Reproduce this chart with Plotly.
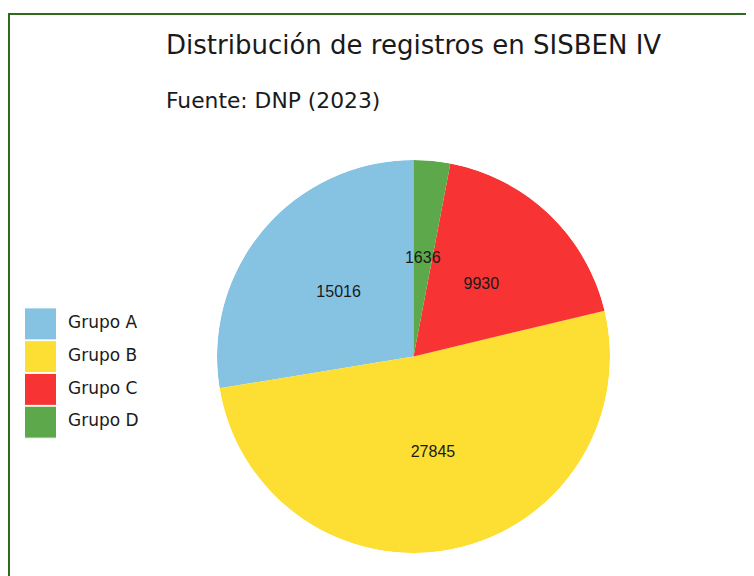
import plotly.graph_objects as go

# Data
categories = ["Grupo A", "Grupo B", "Grupo C", "Grupo D"]
values = [15016, 27845, 9930, 1636]
colors = ["#86C3E3", "#FDDE33", "#F83333", "#5DA84A"]
title_text = "Distribución de registros en SISBEN IV"
subtitle_text = "Fuente: DNP (2023)"

W, H = 754, 576
OFF = 8  # page body margin


def px_x(x):
    return (x - OFF) / W


def px_y(y):
    return 1 - (y - OFF) / H


# pie geometry derived from the values (angles of each sector)
total = sum(values)
widths = [360.0 * v / total for v in values]
mids = []
acc = 0.0
for w in widths:
    mids.append(acc + w / 2.0)
    acc += w

fig = go.Figure()

# Pie sectors
fig.add_trace(go.Barpolar(
    r=[1] * len(values),
    theta=mids,
    width=widths,
    base=0,
    marker=dict(color=colors, line=dict(width=0)),
    customdata=values,
    text=categories,
    hovertemplate="%{text}: %{customdata}<extra></extra>",
    showlegend=False,
    subplot="polar",
))

# Value labels at half radius
fig.add_trace(go.Scatterpolar(
    r=[0.5] * len(values),
    theta=mids,
    mode="text",
    text=[str(v) for v in values],
    textposition="middle center",
    textfont=dict(family="Liberation Sans, Arial, sans-serif", size=16, color="#1a1a1a"),
    showlegend=False,
    hoverinfo="skip",
    subplot="polar",
))

# Legend swatches
fig.add_trace(go.Scatter(
    x=[0] * len(categories),
    y=categories,
    mode="markers",
    marker=dict(symbol="square", size=32, color=colors, line=dict(color="white", width=1)),
    xaxis="x2",
    yaxis="y2",
    showlegend=False,
    hoverinfo="skip",
    cliponaxis=False,
))

# Legend labels
fig.add_trace(go.Scatter(
    x=[1] * len(categories),
    y=categories,
    mode="text",
    text=categories,
    textposition="middle right",
    textfont=dict(family="DejaVu Sans, Verdana, sans-serif", size=17, color="#1a1a1a"),
    xaxis="x2",
    yaxis="y2",
    showlegend=False,
    hoverinfo="skip",
    cliponaxis=False,
))

unit = 27.5      # px between swatch centre and label start
sw_c = 32.5      # swatch centre (figure px)
fig.update_layout(
    width=W,
    height=H,
    margin=dict(l=0, r=0, t=0, b=0),
    paper_bgcolor="white",
    plot_bgcolor="white",
    showlegend=False,
    polar=dict(
        domain=dict(x=[px_x(216), px_x(611)], y=[px_y(553), px_y(160)]),
        bgcolor="rgba(0,0,0,0)",
        hole=0,
        radialaxis=dict(range=[0, 1], visible=False, showgrid=False, showline=False),
        angularaxis=dict(rotation=90, direction="counterclockwise", visible=False,
                         showgrid=False, showline=False, showticklabels=False, ticks=""),
    ),
    xaxis2=dict(domain=[0, 200 / W], range=[-sw_c / unit, (200 - sw_c) / unit],
                visible=False, fixedrange=True),
    yaxis2=dict(domain=[px_y(438.5), px_y(307.5)], range=[3.5, -0.5], type="category",
                categoryorder="array", categoryarray=categories, visible=False, fixedrange=True),
    annotations=[
        dict(text=title_text, x=px_x(164), y=px_y(45), xref="paper", yref="paper",
             xanchor="left", yanchor="middle", showarrow=False,
             font=dict(family="DejaVu Sans, Verdana, sans-serif", size=26, color="#1a1a1a")),
        dict(text=subtitle_text, x=px_x(164), y=px_y(100), xref="paper", yref="paper",
             xanchor="left", yanchor="middle", showarrow=False,
             font=dict(family="DejaVu Sans, Verdana, sans-serif", size=21.8, color="#1a1a1a")),
    ],
    shapes=[
        dict(type="path", xref="paper", yref="paper",
             path=f"M {1 / W},{-0.05} L {1 / W},{px_y(14)} L {1.05},{px_y(14)}",
             line=dict(color="#2E6A1F", width=2)),
    ],
)

fig.write_html("out.html")
